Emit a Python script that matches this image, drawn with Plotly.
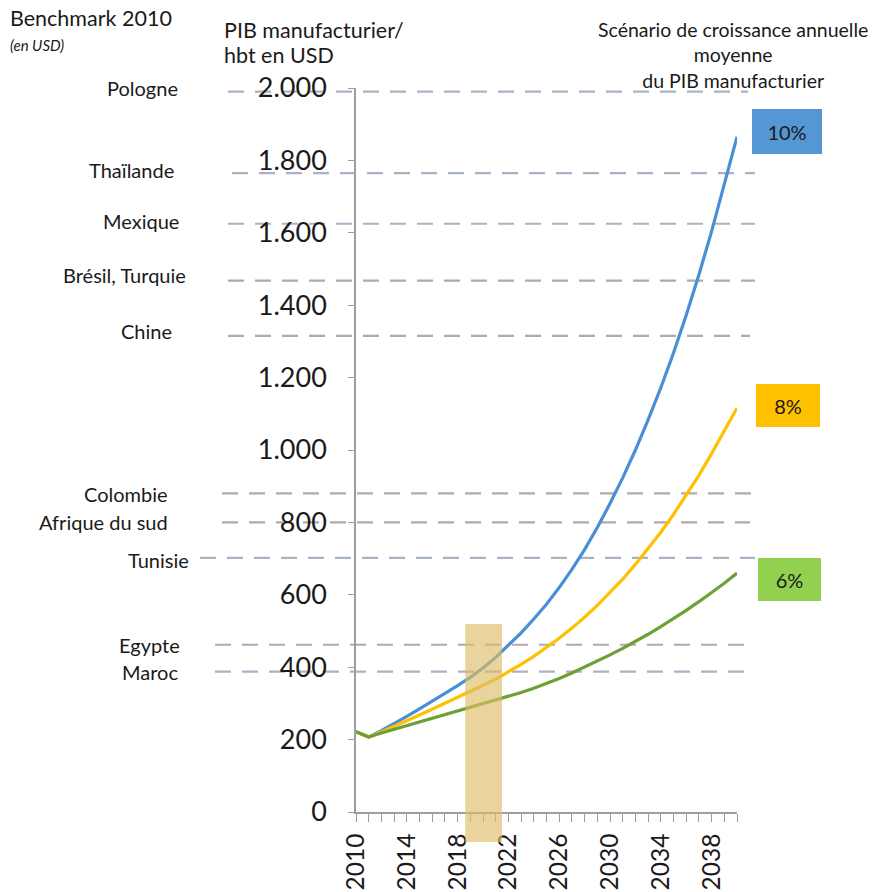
import plotly.graph_objects as go

# ---------------- data ----------------
years = list(range(2010, 2041))
scenario_10 = [222, 207, 225, 244, 264, 285, 306, 327, 349, 372, 398, 427, 460, 495, 533, 574,
               620, 670, 725, 786, 852, 923, 1000, 1083, 1172, 1268, 1372, 1484, 1604, 1731, 1865]
scenario_8 = [222, 207, 221, 236, 252, 268, 284, 300, 317, 334, 350, 367, 387, 408, 430, 454,
              480, 508, 538, 571, 606, 643, 684, 728, 773, 822, 875, 930, 990, 1052, 1116]
scenario_6 = [222, 207, 218, 228, 238, 248, 258, 268, 278, 288, 298, 308, 319, 330, 342, 355,
              369, 384, 400, 417, 434, 452, 471, 491, 512, 534, 557, 581, 606, 632, 660]
scenario_labels = ["10%", "8%", "6%"]

benchmark_countries = ["Pologne", "Thaïlande", "Mexique", "Brésil, Turquie", "Chine",
                       "Colombie", "Afrique du sud", "Tunisie", "Egypte", "Maroc"]
benchmark_values = [1990, 1765, 1625, 1468, 1315, 880, 800, 702, 462, 388]

highlight_years = [2018.6, 2021.5]
highlight_values = [-83, 519]

y_tick_values = [0, 200, 400, 600, 800, 1000, 1200, 1400, 1600, 1800, 2000]
x_tick_years = [2010, 2014, 2018, 2022, 2026, 2030, 2034, 2038]

# ---------------- layout geometry ----------------
W, H = 876, 892
L, R, T, B = 356, 737, 88, 812          # plot area in pixels
PW, PH = R - L, B - T
FONT = "Lato"
TXT = "#1a1a1a"
AXC = "#a39a9a"


def px_x(px):
    return (px - L) / PW


def px_y(py):
    return (B - py) / PH


fig = go.Figure()

line_colors = ["#4a8fd6", "#ffc000", "#6fa035"]
for name, vals, col in zip(scenario_labels, [scenario_10, scenario_8, scenario_6], line_colors):
    fig.add_trace(go.Scatter(x=years, y=vals, mode="lines", name=name,
                             line=dict(color=col, width=3.2), showlegend=False,
                             hoverinfo="x+y"))

# benchmark dashed lines and labels
line_start_px = [228, 232, 228, 228, 228, 222, 222, 200, 215, 215]
line_end_px = [748, 755, 755, 755, 750, 755, 750, 755, 755, 750]
label_right_px = [180, 176, 181, 188, 174, 170, 170, 191, 182, 180]
label_shift = [4, 3, 3, 6, 5, -1, 0, -2, 0, 0]
dash_cols = ["#a9b3c6", "#a9b3c6", "#a9b3c6", "#b3a9aa", "#b3a9aa",
             "#b3a9aa", "#b3a9aa", "#a9b3c6", "#b3a9aa", "#a9b3c6"]
shapes = []
annotations = []
for i, (c, v) in enumerate(zip(benchmark_countries, benchmark_values)):
    shapes.append(dict(type="line", xref="paper", yref="y",
                       x0=px_x(line_start_px[i]), x1=px_x(line_end_px[i]), y0=v, y1=v,
                       line=dict(color=dash_cols[i], width=2.2, dash="16px,11px"),
                       layer="below"))
    annotations.append(dict(text=c, xref="paper", yref="y", x=px_x(label_right_px[i]), y=v,
                            xanchor="right", yanchor="middle", yshift=label_shift[i],
                            showarrow=False, font=dict(family=FONT, size=20, color=TXT)))

# highlighted period rectangle
shapes.append(dict(type="rect", xref="x", yref="paper",
                   x0=highlight_years[0], x1=highlight_years[1],
                   y0=highlight_values[0] / y_tick_values[-1],
                   y1=highlight_values[1] / y_tick_values[-1],
                   fillcolor="rgb(220,189,103)", opacity=0.65, line=dict(width=0),
                   layer="above"))

# header texts
annotations += [
    dict(text="Benchmark 2010", x=px_x(8), y=px_y(18), xanchor="left", yanchor="middle",
         xref="paper", yref="paper", showarrow=False, font=dict(family=FONT, size=21.5, color=TXT)),
    dict(text="<i>(en USD)</i>", x=px_x(8), y=px_y(45), xanchor="left", yanchor="middle",
         xref="paper", yref="paper", showarrow=False, font=dict(family=FONT, size=15, color=TXT)),
    dict(text="PIB manufacturier/", x=px_x(222), y=px_y(30), xanchor="left", yanchor="middle",
         xref="paper", yref="paper", showarrow=False, font=dict(family=FONT, size=21.5, color=TXT)),
    dict(text="hbt en USD", x=px_x(222), y=px_y(55), xanchor="left", yanchor="middle",
         xref="paper", yref="paper", showarrow=False, font=dict(family=FONT, size=21.5, color=TXT)),
    dict(text="Scénario de croissance annuelle<br>moyenne<br>du PIB manufacturier",
         x=px_x(733), y=px_y(55), xanchor="center", yanchor="middle", align="center",
         xref="paper", yref="paper", showarrow=False, font=dict(family=FONT, size=19.5, color=TXT)),
]

# scenario boxes
box_specs = [("#5596d4", 787, 131, 70, 45), ("#ffc000", 788, 405, 64, 43), ("#92d050", 789, 579, 63, 43)]
for lab, (bg, cx, cy, bw, bh) in zip(scenario_labels, box_specs):
    annotations.append(dict(text=lab, x=px_x(cx), y=px_y(cy), xref="paper", yref="paper",
                            xanchor="center", yanchor="middle", showarrow=False,
                            width=bw, height=bh, bgcolor=bg, borderpad=0, borderwidth=0,
                            font=dict(family=FONT, size=20, color=TXT)))

fig.update_layout(
    width=W, height=H,
    margin=dict(l=L, r=W - R, t=T, b=H - B, pad=0, autoexpand=False),
    paper_bgcolor="white", plot_bgcolor="rgba(0,0,0,0)",
    separators=",.",
    font=dict(family=FONT, color=TXT),
    shapes=shapes, annotations=annotations,
    xaxis=dict(range=[years[0], years[-1]], tickvals=x_tick_years,
               ticktext=[str(y) for y in x_tick_years], tickangle=-90, automargin=False,
               ticks="outside", ticklen=8, tickcolor=AXC, tickwidth=1.3,
               minor=dict(dtick=1, tick0=2010, ticks="outside", ticklen=8, tickcolor=AXC, tickwidth=1.3),
               showline=True, linecolor=AXC, linewidth=1.5, showgrid=False, zeroline=False,
               tickfont=dict(family=FONT, size=24.5, color=TXT), ticklabelstandoff=2),
    yaxis=dict(range=[0, y_tick_values[-1]], tickvals=y_tick_values, separatethousands=True,
               automargin=False,
               ticks="outside", ticklen=6, tickcolor=AXC, tickwidth=1.3,
               showline=True, linecolor=AXC, linewidth=1.5, showgrid=False, zeroline=False,
               tickfont=dict(family=FONT, size=27, color=TXT), ticklabelstandoff=16),
)

fig.write_html("out.html", config={"displayModeBar": False},
               post_script="document.body.style.margin='0px';document.body.style.overflow='hidden';")
